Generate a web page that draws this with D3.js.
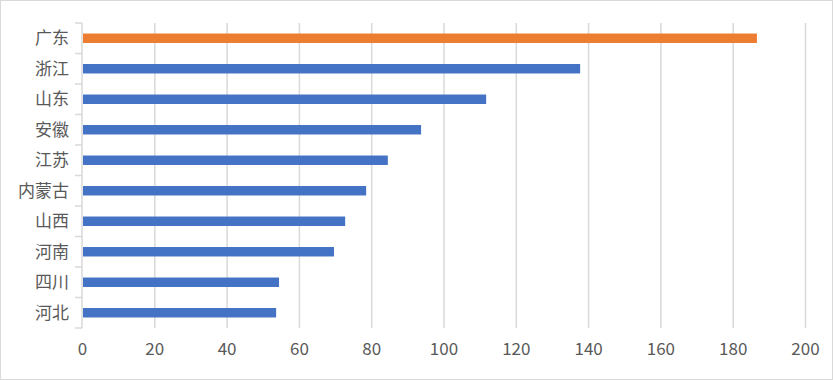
<!DOCTYPE html>
<html><head><meta charset="utf-8">
<script src="https://cdn.jsdelivr.net/npm/d3@7"></script>
<style>html,body{margin:0;padding:0;background:#fff}svg{display:block}</style>
</head><body>
<script>
const categories = ["广东","浙江","山东","安徽","江苏","内蒙古","山西","河南","四川","河北"];
const values = [186.7, 137.8, 111.8, 93.8, 84.6, 78.6, 72.8, 69.7, 54.5, 53.7];
const highlight = ["广东"];
const xTicks = [0,20,40,60,80,100,120,140,160,180,200];

const W = 833, H = 380;
const m = {left: 82, right: 28, top: 23, bottom: 52};
const svg = d3.select("body").append("svg").attr("width", W).attr("height", H);
svg.append("rect").attr("x",0.5).attr("y",0.5).attr("width",W-1).attr("height",H-1)
  .attr("fill","#fff").attr("stroke","#d9d9d9");

const x = d3.scaleLinear().domain([0,200]).range([m.left, W - m.right]);
const y = d3.scaleBand().domain(categories).range([m.top, H - m.bottom]).paddingInner(0.69).paddingOuter(0.345);
const font = "'Noto Sans CJK SC','Microsoft YaHei',sans-serif";

// gridlines
const gx = svg.append("g").attr("transform", `translate(0,${H - m.bottom})`)
  .call(d3.axisBottom(x).tickValues(xTicks).tickSize(-(H - m.top - m.bottom)).tickPadding(15));
gx.select(".domain").remove();
gx.selectAll(".tick line").attr("stroke","#d9d9d9").attr("stroke-width",1.5);
gx.selectAll(".tick text").attr("fill","#595959").style("font-family",font).style("font-size","17px");
gx.selectAll(".tick").filter(d => d === 0).select("line").remove();

// left axis
const band = y.step();
const yAx = svg.append("g").attr("transform", `translate(${m.left},0)`);
yAx.append("line").attr("x1",0).attr("x2",0).attr("y1",m.top).attr("y2",H - m.bottom)
  .attr("stroke","#d9d9d9").attr("stroke-width",1.5);
const bounds = categories.map((c,i) => m.top + i*band).concat([H - m.bottom]);
yAx.selectAll("line.t").data(bounds).join("line").attr("class","t")
  .attr("x1",-7).attr("x2",0).attr("y1",d=>d).attr("y2",d=>d)
  .attr("stroke","#d9d9d9").attr("stroke-width",1.5);
yAx.selectAll("text").data(categories).join("text")
  .attr("x",-13).attr("y",d => y(d) + y.bandwidth()/2).attr("dy","0.36em")
  .attr("text-anchor","end").attr("fill","#595959")
  .style("font-family",font).style("font-size","17px").text(d=>d);

// bars
svg.append("g").selectAll("rect").data(categories).join("rect")
  .attr("x", x(0) + 1).attr("y", d => y(d))
  .attr("width", (d,i) => x(values[i]) - x(0) - 1).attr("height", y.bandwidth())
  .attr("fill", d => highlight.includes(d) ? "#ED7D31" : "#4472C4");
</script>
</body></html>
